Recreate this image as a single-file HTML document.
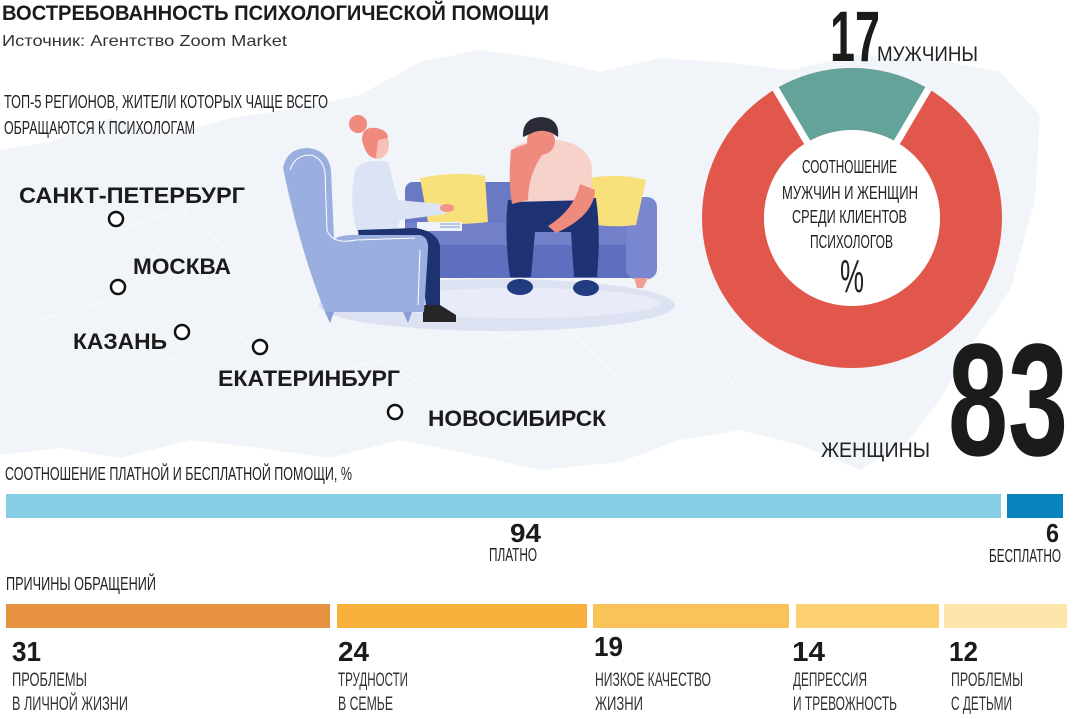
<!DOCTYPE html>
<html>
<head>
<meta charset="utf-8">
<style>
html,body{margin:0;padding:0;background:#fff;}
svg{display:block;}
text{font-family:"Liberation Sans","DejaVu Sans",sans-serif;}
</style>
</head>
<body>
<svg width="1073" height="719" viewBox="0 0 1073 719" xmlns="http://www.w3.org/2000/svg">
<rect x="0" y="0" width="1073" height="719" fill="#ffffff"/>

<!-- map background -->
<path d="M0,150 L50,142 L110,118 L170,135 L230,118 L300,108 L360,95 L420,62 L480,50 L540,58 L600,72 L660,58 L720,62 L790,70 L860,55 L930,58 L1000,72 L1040,115 L1035,200 L1010,290 L975,340 L940,400 L905,445 L860,470 L800,445 L740,430 L680,440 L620,462 L540,470 L460,452 L400,440 L330,458 L260,448 L190,440 L120,458 L60,448 L0,455 Z" fill="#f1f4f8"/>
<path d="M60,200 L120,230 L180,210 L240,260 L300,240 L360,300 L430,290 L500,340 L560,320 L620,380 M40,320 L110,300 L170,360 L230,330 L300,380 L380,360 L450,400 M700,300 L760,340 L720,400 M160,150 L200,190 L150,260" stroke="#ffffff" stroke-width="1" fill="none" opacity="0.7"/>

<!-- title -->
<text x="2" y="20" font-size="21" font-weight="bold" fill="#1b1b1b" textLength="547" lengthAdjust="spacingAndGlyphs">ВОСТРЕБОВАННОСТЬ ПСИХОЛОГИЧЕСКОЙ ПОМОЩИ</text>
<text x="2" y="46" font-size="16" fill="#333" textLength="285" lengthAdjust="spacingAndGlyphs">Источник: Агентство Zoom Market</text>

<text x="4" y="108" font-size="18" fill="#222" textLength="324" lengthAdjust="spacingAndGlyphs">ТОП-5 РЕГИОНОВ, ЖИТЕЛИ КОТОРЫХ ЧАЩЕ ВСЕГО</text>
<text x="4" y="134" font-size="18" fill="#222" textLength="191" lengthAdjust="spacingAndGlyphs">ОБРАЩАЮТСЯ К ПСИХОЛОГАМ</text>

<!-- illustration: floor -->
<ellipse cx="497" cy="305" rx="178" ry="26" fill="#dde2f3"/>
<ellipse cx="520" cy="303" rx="140" ry="15" fill="#e9ecf8"/>

<!-- sofa -->
<rect x="405" y="182" width="225" height="50" rx="8" fill="#6a79c4"/>
<rect x="405" y="223" width="228" height="22" fill="#7180c9"/>
<rect x="405" y="245" width="228" height="33" fill="#5f6fbf"/>
<rect x="626" y="197" width="31" height="82" rx="10" fill="#7887cf"/>
<polygon points="634,278 648,278 643,288 637,288" fill="#f0a090"/>
<!-- pillows -->
<path d="M420,178 Q455,171 485,176 L488,222 Q455,226 428,222 Z" fill="#f8e07a"/>
<path d="M590,178 Q620,173 646,180 L636,225 Q610,228 592,224 Z" fill="#f8e07a"/>

<!-- chair back -->
<path d="M283,168 Q287,148 308,148 Q328,150 331,170 L334,240 L325,312 Q300,250 283,168 Z" fill="#9baee0"/>

<!-- woman -->
<circle cx="358" cy="124" r="9" fill="#ef8a7d"/>
<ellipse cx="377" cy="145" rx="12" ry="14" fill="#f7c2b5"/>
<path d="M362,140 Q362,126 376,128 Q388,130 388,138 L378,140 L376,158 Q366,158 362,140 Z" fill="#ef8a7d"/>
<path d="M356,168 Q368,158 388,162 L398,200 L440,204 L446,214 L400,220 L396,232 L357,232 Q348,200 356,168 Z" fill="#dbe3f4"/>
<ellipse cx="447" cy="208" rx="7" ry="4" fill="#f1948a"/>
<rect x="417" y="222" width="45" height="9" fill="#eef2fb"/>
<line x1="440" y1="224" x2="460" y2="224" stroke="#7d9ad0" stroke-width="1"/>
<line x1="440" y1="227" x2="460" y2="227" stroke="#7d9ad0" stroke-width="1"/>
<path d="M358,230 L415,228 Q442,232 440,252 L440,305 L426,306 L420,252 L360,250 Z" fill="#1f3373"/>
<path d="M423,305 L440,305 L456,315 L456,322 L423,322 Z" fill="#262626"/>

<!-- chair front -->
<path d="M330,243 Q335,234 360,235 L420,235 Q429,237 428,250 L424,312 L325,312 Z" fill="#9baee0"/>
<path d="M290,170 Q295,155 310,155 Q322,157 325,172 L327,230 Q332,245 356,240 L415,238" stroke="#ffffff" stroke-width="1" fill="none"/>
<path d="M420,250 L418,305" stroke="#ffffff" stroke-width="1" fill="none"/>
<polygon points="325,312 334,312 330,323" fill="#8a9dd6"/>
<polygon points="403,312 412,312 408,323" fill="#8a9dd6"/>

<!-- man -->
<path d="M508,200 L596,198 Q601,232 597,277 L574,277 L571,232 L535,232 L531,277 L510,277 Q504,232 508,200 Z" fill="#1f3374"/>
<path d="M515,146 Q535,138 555,140 Q586,142 592,166 L591,200 L512,202 Q507,170 515,146 Z" fill="#f7d2ca"/>
<path d="M511,150 Q508,180 512,204 L528,200 Q528,172 546,150 L538,140 Q520,146 511,150 Z" fill="#ef8b7d"/>
<circle cx="541" cy="141" r="14" fill="#ef8b7d"/>
<path d="M523,137 Q522,118 541,117 Q560,118 558,137 L552,133 Q540,128 530,134 Z" fill="#2b2b38"/>
<path d="M580,184 L595,190 Q594,216 556,233 L548,226 Q574,210 580,184 Z" fill="#ef8b7d"/>
<ellipse cx="520" cy="287" rx="13" ry="8" fill="#233b80"/>
<ellipse cx="586" cy="288" rx="13" ry="8" fill="#233b80"/>

<!-- cities -->
<g font-weight="bold" font-size="22" fill="#1b1b1b">
<text x="19" y="203" textLength="226" lengthAdjust="spacingAndGlyphs">САНКТ-ПЕТЕРБУРГ</text>
<text x="133" y="274" textLength="98" lengthAdjust="spacingAndGlyphs">МОСКВА</text>
<text x="73" y="349" textLength="94" lengthAdjust="spacingAndGlyphs">КАЗАНЬ</text>
<text x="218" y="386" textLength="182" lengthAdjust="spacingAndGlyphs">ЕКАТЕРИНБУРГ</text>
<text x="428" y="426" textLength="178" lengthAdjust="spacingAndGlyphs">НОВОСИБИРСК</text>
</g>
<g fill="#ffffff" stroke="#111" stroke-width="2.5">
<circle cx="116" cy="219" r="7"/>
<circle cx="118" cy="287" r="7"/>
<circle cx="182" cy="332" r="7"/>
<circle cx="260" cy="347" r="7"/>
<circle cx="395" cy="412" r="7"/>
</g>

<!-- donut -->
<circle cx="852" cy="218" r="150" fill="#ffffff"/>
<circle cx="852" cy="218" r="119" fill="none" stroke="#e2574c" stroke-width="62"/>
<circle cx="852" cy="218" r="119" fill="none" stroke="#63a39a" stroke-width="62" stroke-dasharray="127.1 700" transform="rotate(-120.6 852 218)"/>
<g stroke="#ffffff" stroke-width="7">
<line x1="852" y1="218" x2="775.6" y2="88.9" />
<line x1="852" y1="218" x2="928.4" y2="88.9" />
</g>
<circle cx="852" cy="218" r="88" fill="#ffffff"/>

<text x="830" y="61" font-size="71" font-weight="bold" fill="#1b1b1b" textLength="50" lengthAdjust="spacingAndGlyphs">17</text>
<text x="877" y="61" font-size="21" fill="#222" textLength="101" lengthAdjust="spacingAndGlyphs">МУЖЧИНЫ</text>

<g font-size="18" fill="#222">
<text x="802" y="173" textLength="95" lengthAdjust="spacingAndGlyphs">СООТНОШЕНИЕ</text>
<text x="782" y="199" textLength="136" lengthAdjust="spacingAndGlyphs">МУЖЧИН И ЖЕНЩИН</text>
<text x="792" y="223" textLength="115" lengthAdjust="spacingAndGlyphs">СРЕДИ КЛИЕНТОВ</text>
<text x="810" y="248" textLength="83" lengthAdjust="spacingAndGlyphs">ПСИХОЛОГОВ</text>
</g>
<text x="840" y="292" font-size="46" fill="#222" textLength="24" lengthAdjust="spacingAndGlyphs">%</text>

<text x="948" y="455" font-size="160" font-weight="bold" fill="#1b1b1b" textLength="120" lengthAdjust="spacingAndGlyphs">83</text>
<text x="821" y="457" font-size="21" fill="#222" textLength="109" lengthAdjust="spacingAndGlyphs">ЖЕНЩИНЫ</text>

<!-- paid / free -->
<text x="5" y="480" font-size="18" fill="#222" textLength="347" lengthAdjust="spacingAndGlyphs">СООТНОШЕНИЕ ПЛАТНОЙ И БЕСПЛАТНОЙ ПОМОЩИ, %</text>
<rect x="6" y="494" width="995" height="24" fill="#87cee4"/>
<rect x="1007" y="494" width="56" height="24" fill="#0983be"/>
<text x="510" y="542" font-size="26" font-weight="bold" fill="#1b1b1b" textLength="31" lengthAdjust="spacingAndGlyphs">94</text>
<text x="489" y="561" font-size="18" fill="#222" textLength="48" lengthAdjust="spacingAndGlyphs">ПЛАТНО</text>
<text x="1046" y="542" font-size="26" font-weight="bold" fill="#1b1b1b" textLength="13" lengthAdjust="spacingAndGlyphs">6</text>
<text x="989" y="562" font-size="18" fill="#222" textLength="72" lengthAdjust="spacingAndGlyphs">БЕСПЛАТНО</text>

<!-- reasons -->
<text x="6" y="590" font-size="18" fill="#222" textLength="150" lengthAdjust="spacingAndGlyphs">ПРИЧИНЫ ОБРАЩЕНИЙ</text>
<rect x="6" y="604" width="324" height="24" fill="#e69140"/>
<rect x="337" y="604" width="250" height="24" fill="#f7b03b"/>
<rect x="593" y="604" width="196" height="24" fill="#fac35a"/>
<rect x="796" y="604" width="143" height="24" fill="#fcd072"/>
<rect x="944" y="604" width="123" height="24" fill="#fee6aa"/>

<g font-size="28" font-weight="bold" fill="#1b1b1b">
<text x="12" y="661" textLength="29" lengthAdjust="spacingAndGlyphs">31</text>
<text x="338" y="661" textLength="31" lengthAdjust="spacingAndGlyphs">24</text>
<text x="594" y="656" textLength="29" lengthAdjust="spacingAndGlyphs">19</text>
<text x="792" y="661" textLength="33" lengthAdjust="spacingAndGlyphs">14</text>
<text x="949" y="661" textLength="29" lengthAdjust="spacingAndGlyphs">12</text>
</g>
<g font-size="19" fill="#333">
<text x="12" y="686" textLength="75" lengthAdjust="spacingAndGlyphs">ПРОБЛЕМЫ</text>
<text x="12" y="710" textLength="116" lengthAdjust="spacingAndGlyphs">В ЛИЧНОЙ ЖИЗНИ</text>
<text x="338" y="686" textLength="70" lengthAdjust="spacingAndGlyphs">ТРУДНОСТИ</text>
<text x="338" y="710" textLength="55" lengthAdjust="spacingAndGlyphs">В СЕМЬЕ</text>
<text x="595" y="686" textLength="116" lengthAdjust="spacingAndGlyphs">НИЗКОЕ КАЧЕСТВО</text>
<text x="595" y="710" textLength="48" lengthAdjust="spacingAndGlyphs">ЖИЗНИ</text>
<text x="793" y="686" textLength="74" lengthAdjust="spacingAndGlyphs">ДЕПРЕССИЯ</text>
<text x="793" y="710" textLength="104" lengthAdjust="spacingAndGlyphs">И ТРЕВОЖНОСТЬ</text>
<text x="951" y="686" textLength="72" lengthAdjust="spacingAndGlyphs">ПРОБЛЕМЫ</text>
<text x="951" y="710" textLength="61" lengthAdjust="spacingAndGlyphs">С ДЕТЬМИ</text>
</g>
</svg>
</body>
</html>
